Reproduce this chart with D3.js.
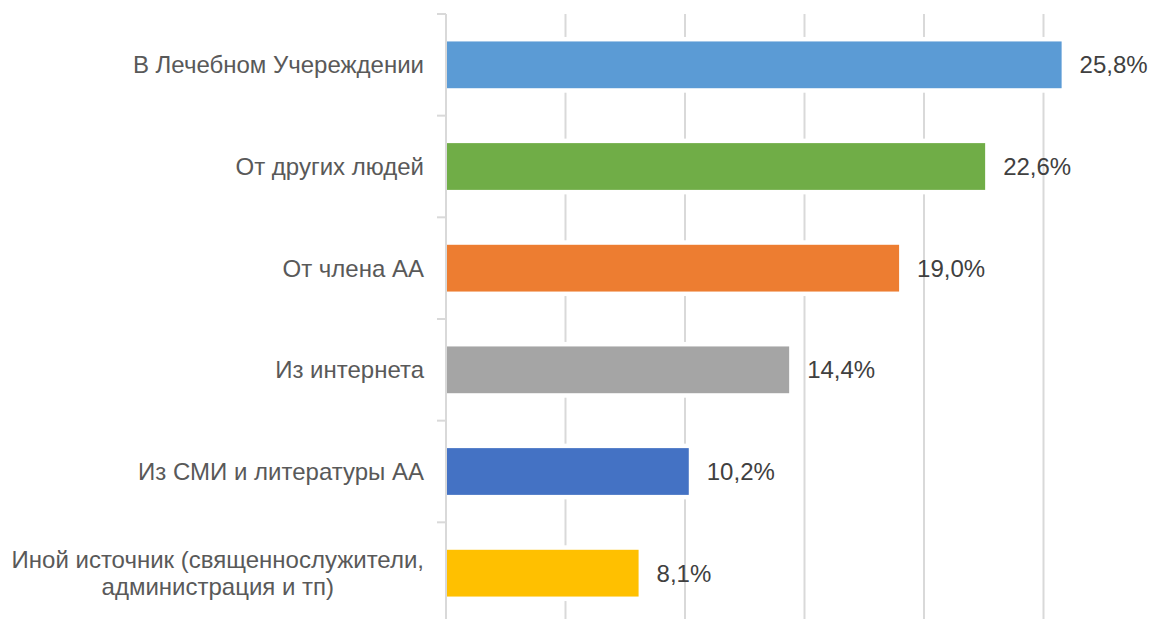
<!DOCTYPE html>
<html>
<head>
<meta charset="utf-8">
<script src="https://cdn.jsdelivr.net/npm/d3@7"></script>
<style>
body { margin: 0; background: #fff; }
text { font-family: "Liberation Sans", Arial, sans-serif; }
</style>
</head>
<body>
<script>
// categories, top to bottom
var categories = ["В Лечебном Учереждении", "От других людей", "От члена АА",
  "Из интернета", "Из СМИ и литературы АА",
  "Иной источник (священнослужители,|администрация и тп)"];
var values = [25.8, 22.6, 19.0, 14.4, 10.2, 8.1];
var colors = ["#5B9BD5", "#70AD47", "#ED7D31", "#A5A5A5", "#4472C4", "#FFC000"];
var xTicks = [0, 5, 10, 15, 20, 25, 30];

var width = 1151, height = 619;
var fs = "24px";

var svg = d3.select("body").append("svg")
  .attr("width", width)
  .attr("height", height);

var x = d3.scaleLinear().domain([0, 30]).range([446, 1163]);
var y = d3.scaleBand().domain(categories).range([14, 624]).paddingInner(0.54).paddingOuter(0.27);
var band = d3.scaleBand().domain(categories).range([14, 624]); // for tick marks

// gridlines
svg.append("g")
  .selectAll("line")
  .data(xTicks.slice(1))
  .enter().append("line")
  .attr("x1", function(d) { return x(d); })
  .attr("x2", function(d) { return x(d); })
  .attr("y1", 14).attr("y2", height)
  .style("stroke", "#d9d9d9")
  .style("stroke-width", 2);

// category axis line + ticks
svg.append("line")
  .attr("x1", 446).attr("x2", 446)
  .attr("y1", 14).attr("y2", height)
  .style("stroke", "#d9d9d9").style("stroke-width", 2);
svg.append("g")
  .selectAll("line")
  .data(categories)
  .enter().append("line")
  .attr("x1", 437).attr("x2", 446)
  .attr("y1", function(d) { return band(d); })
  .attr("y2", function(d) { return band(d); })
  .style("stroke", "#d9d9d9").style("stroke-width", 2);

// white gap round bars (gridlines break there)
svg.append("g")
  .selectAll("rect")
  .data(values)
  .enter().append("rect")
  .attr("x", 448)
  .attr("y", function(d, i) { return y(categories[i]) - 4.5; })
  .attr("width", function(d) { return x(d) - 448 + 3; })
  .attr("height", y.bandwidth() + 9)
  .style("fill", "#fff");

// bars
svg.append("g")
  .selectAll("rect")
  .data(values)
  .enter().append("rect")
  .attr("x", 447)
  .attr("y", function(d, i) { return y(categories[i]); })
  .attr("width", function(d) { return x(d) - 448; })
  .attr("height", y.bandwidth())
  .style("fill", function(d, i) { return colors[i]; });

// value labels
svg.append("g")
  .selectAll("text")
  .data(values)
  .enter().append("text")
  .attr("x", function(d) { return x(d) + 17; })
  .attr("y", function(d, i) { return y(categories[i]) + y.bandwidth() / 2; })
  .attr("dy", "0.35em")
  .style("font-size", fs)
  .style("fill", "#404040")
  .text(function(d) { return d.toFixed(1).replace(".", ",") + "%"; });

// category labels
var labels = svg.append("g")
  .selectAll("text")
  .data(categories)
  .enter().append("text")
  .style("font-size", fs)
  .style("fill", "#595959");

labels.each(function(d) {
  var t = d3.select(this);
  var lines = d.split("|");
  var cy = y(d) + y.bandwidth() / 2;
  if (lines.length === 1) {
    t.attr("x", 424).attr("y", cy).attr("dy", "0.35em")
      .attr("text-anchor", "end").text(d);
  } else {
    t.attr("text-anchor", "middle");
    var tmp = svg.append("text").style("font-size", fs).text(lines[0]);
    var w = tmp.node().getComputedTextLength();
    tmp.remove();
    var mid = 424 - w / 2;
    lines.forEach(function(l, i) {
      t.append("tspan")
        .attr("x", mid)
        .attr("y", cy + (i - 0.5) * 27)
        .attr("dy", "0.35em")
        .text(l);
    });
  }
});
</script>
</body>
</html>
